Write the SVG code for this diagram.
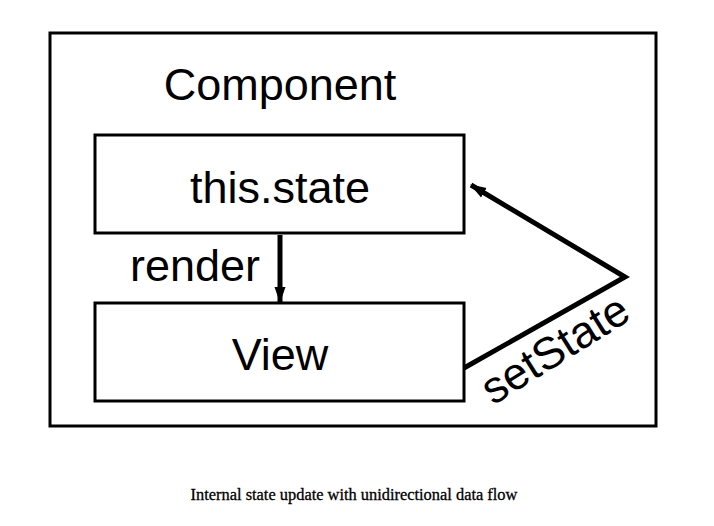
<svg xmlns="http://www.w3.org/2000/svg" width="714" height="526" viewBox="0 0 714 526">
<style>
.box{fill:#fff;stroke:#000;stroke-width:3}
.lbl{font-family:"Liberation Sans",Arial,sans-serif;font-size:45px;fill:#000}
.edge{fill:none;stroke:#000;stroke-width:5}
.cap{font-family:"Liberation Serif","Times New Roman",serif;font-size:16.4px;fill:#000;stroke:#000;stroke-width:0.3}
</style>
<defs>
<marker id="ah" markerWidth="16" markerHeight="12" refX="15" refY="6" orient="auto" markerUnits="userSpaceOnUse">
<path d="M0,0.5 L16,6 L0,11.5 Z" fill="#000"/>
</marker>
</defs>
<rect width="714" height="526" fill="#fff"/>
<g id="component">
<rect class="box" x="50" y="33" width="606" height="393"/>
<text class="lbl" x="280" y="100" text-anchor="middle" font-size="46">Component</text>
</g>
<g id="state">
<rect class="box" x="95" y="135" width="369" height="98"/>
<text class="lbl" x="280" y="203" text-anchor="middle">this.state</text>
</g>
<g id="view">
<rect class="box" x="95" y="303" width="369" height="98"/>
<text class="lbl" x="280" y="370" text-anchor="middle">View</text>
</g>
<g id="connectors">
<line class="edge" x1="280" y1="235" x2="280" y2="302" marker-end="url(#ah)"/>
<text class="lbl" x="195" y="281" text-anchor="middle" font-size="42">render</text>
<polyline class="edge" points="464,368 625,277 471,185" stroke-width="6" marker-end="url(#ah)"/>
<text class="lbl" x="563" y="362" text-anchor="middle" font-size="46" transform="rotate(-32 563 362)">setState</text>
</g>
<text class="cap" x="354" y="500" text-anchor="middle">Internal state update with unidirectional data flow</text>
</svg>
